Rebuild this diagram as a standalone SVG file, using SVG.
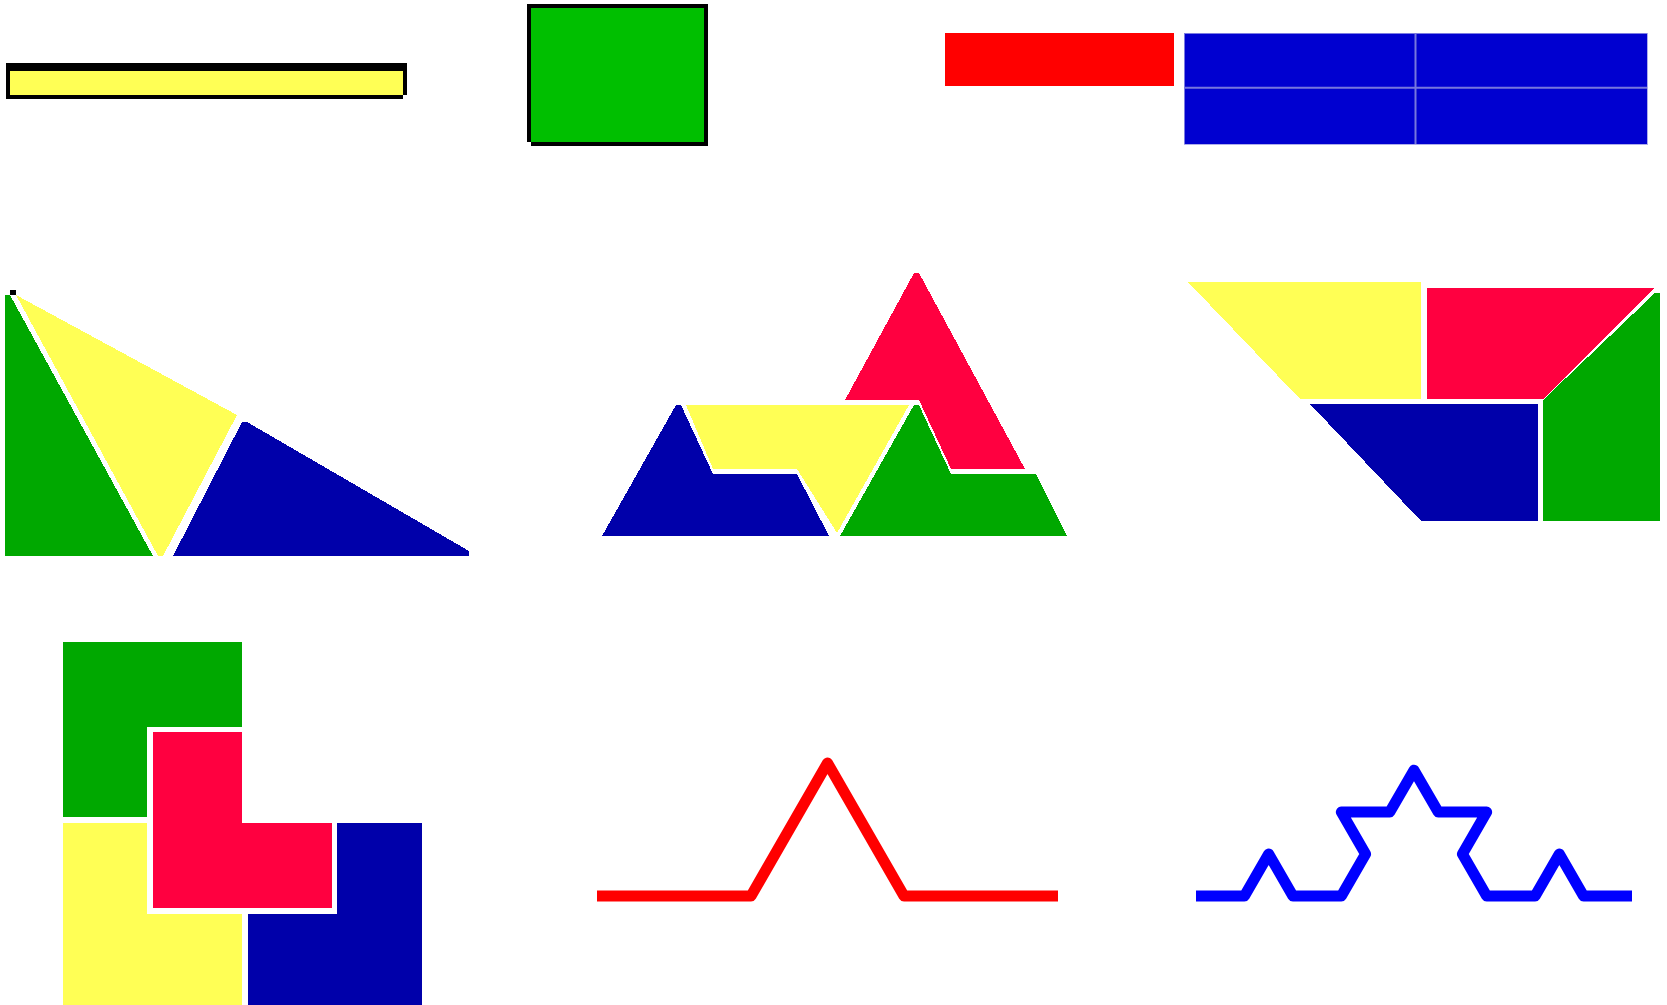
<svg xmlns="http://www.w3.org/2000/svg" width="1667" height="1005" viewBox="0 0 1667 1005">
<style>
.k{fill:#000000}
.y{fill:#ffff55}
.g{fill:#00a800}
.r{fill:#ff0040}
.b{fill:#0000aa}
polygon,rect{shape-rendering:crispEdges}
.koch{fill:none;stroke-width:11;stroke-linejoin:round;stroke-linecap:butt}
</style>
<rect width="1667" height="1005" fill="#ffffff"/>
<g id="bar">
<rect class="k" x="6" y="63" width="401" height="32"/>
<rect class="k" x="6" y="67" width="397" height="32"/>
<rect class="y" x="10" y="71" width="393" height="24"/>
</g>
<g id="square">
<rect class="k" x="527" y="4" width="181" height="138"/>
<rect class="k" x="531" y="8" width="177" height="138"/>
<rect x="531" y="8" width="173" height="134" fill="#00bf00"/>
</g>
<g id="red-rect">
<rect x="945" y="33" width="229" height="53" fill="#ff0000"/>
</g>
<g id="blue-grid">
<rect x="1184" y="33" width="463" height="111" fill="#0000d0" stroke="#9a9ae6" stroke-width="0.8"/>
<line x1="1415.5" y1="33" x2="1415.5" y2="144" stroke="#7777dd" stroke-width="2"/>
<line x1="1184" y1="87.7" x2="1647" y2="87.7" stroke="#7777dd" stroke-width="2"/>
</g>
<g id="tri1">
<rect class="k" x="10" y="290" width="6" height="5"/>
<polygon class="g" points="5,295 10,295 153,556 5,556"/>
<polygon class="y" points="16,295 237,415 163,556 158,556"/>
<polygon class="b" points="242,422 247,422 469,551 469,556 173,556"/>
</g>
<g id="tri2">
<polygon class="r" points="914,273 919,273 1025,469 951,469 919,400 845,400"/>
<polygon class="y" points="686,405 909,405 837,533 797,469 713,469"/>
<polygon class="b" points="676,405 681,405 713,474 797,474 829,536 602,536"/>
<polygon class="g" points="914,405 919,405 951,474 1036,474 1067,536 840,536"/>
</g>
<g id="trap">
<polygon class="y" points="1188,282 1421,282 1421,399 1300,399"/>
<polygon class="r" points="1427,288 1654,288 1543,399 1427,399"/>
<polygon class="b" points="1310,404 1538,404 1538,521 1421,521"/>
<polygon class="g" points="1655,293 1660,293 1660,521 1543,521 1543,400"/>
</g>
<g id="lshapes">
<polygon class="g" points="63,642 242,642 242,727 147,727 147,817 63,817"/>
<polygon class="r" points="153,732 242,732 242,823 332,823 332,908 153,908"/>
<polygon class="y" points="63,823 147,823 147,914 242,914 242,1005 63,1005"/>
<polygon class="b" points="337,823 422,823 422,1005 248,1005 248,914 337,914"/>
</g>
<g id="koch1">
<polyline class="koch" stroke="#ff0000" points="597,896 751,896 827.5,763 904,896 1058,896"/>
</g>
<g id="koch2">
<polyline class="koch" stroke="#0000ff" points="1196,896 1244.44,896 1268.67,854.05 1292.89,896 1341.33,896 1365.56,854.05 1341.33,812.09 1389.78,812.09 1414,770.14 1438.22,812.09 1486.67,812.09 1462.44,854.05 1486.67,896 1535.11,896 1559.33,854.05 1583.56,896 1632,896"/>
</g>
</svg>
